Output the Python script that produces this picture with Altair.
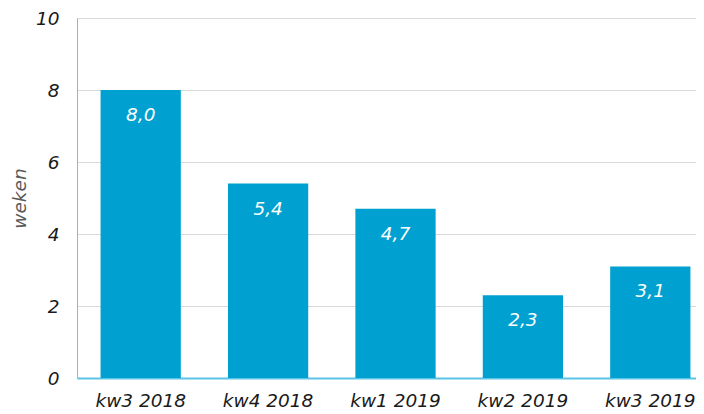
import altair as alt
import pandas as pd

categories = ["kw3 2018", "kw4 2018", "kw1 2019", "kw2 2019", "kw3 2019"]
values = [8.0, 5.4, 4.7, 2.3, 3.1]
y_ticks = [0, 2, 4, 6, 8, 10]

df = pd.DataFrame({
    "cat": categories,
    "val": values,
    "lbl": [f"{v:.1f}".replace(".", ",") for v in values],
})

FONT = "DejaVu Sans"
FS = 18.5

x_enc = alt.X("cat:N", sort=categories, title=None,
              scale=alt.Scale(range=[0, 637], paddingInner=0.37, paddingOuter=0.185),
              axis=alt.Axis(labelAngle=0, labelFont=FONT, labelFontStyle="italic",
                            labelFontSize=FS, labelColor="#1a1a1a", labelPadding=13,
                            ticks=False, domainColor="#5BC3E6", domainWidth=2,
                            grid=False))

y_enc = alt.Y("val:Q", title="weken",
              scale=alt.Scale(domain=[0, 10], nice=False),
              axis=alt.Axis(values=y_ticks, labelFont=FONT, labelFontStyle="italic",
                            labelFontSize=FS, labelColor="#1a1a1a", labelPadding=18,
                            ticks=False, domainColor="#8EB4E3", domainWidth=1,
                            gridColor="#D9D9D9", gridWidth=1,
                            titleFont=FONT, titleFontStyle="italic", titleFontWeight="normal",
                            titleFontSize=FS, titleColor="#595959",
                            titleX=-58, titleY=180, titleAngle=-90,
                            titleAlign="center", titleBaseline="middle"))

bars = alt.Chart(df).mark_bar(color="#00A1D0").encode(x=x_enc, y=y_enc)

text = alt.Chart(df).mark_text(font=FONT, fontStyle="italic", fontSize=FS,
                               color="white", baseline="middle", dy=25).encode(
    x=alt.X("cat:N", sort=categories), y="val:Q", text="lbl:N")

chart = (bars + text).properties(
    width=619, height=360,
    autosize=alt.AutoSizeParams(type="none"),
    padding={"left": 69, "top": 10, "right": 0, "bottom": 35},
).configure_view(stroke=None)

chart.save("out.html", embed_options={"renderer": "svg", "actions": False})
